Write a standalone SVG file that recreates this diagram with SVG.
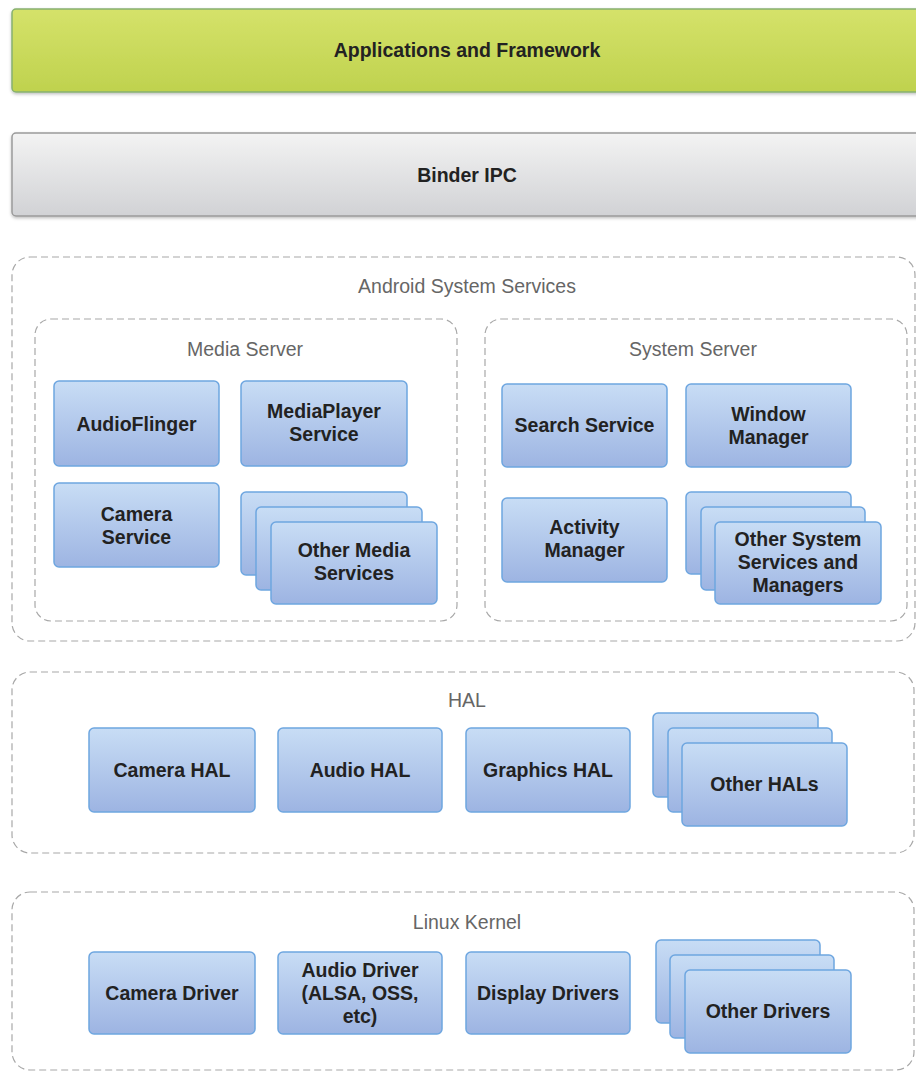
<svg xmlns="http://www.w3.org/2000/svg" width="916" height="1072" viewBox="0 0 916 1072">
<defs>
<linearGradient id="gBlue" x1="0" y1="0" x2="0" y2="1">
<stop offset="0" stop-color="#c8ddf5"/>
<stop offset="1" stop-color="#9db4e2"/>
</linearGradient>
<linearGradient id="gGreen" x1="0" y1="0" x2="0" y2="1">
<stop offset="0" stop-color="#d5e26a"/>
<stop offset="1" stop-color="#bfd24e"/>
</linearGradient>
<linearGradient id="gGrey" x1="0" y1="0" x2="0" y2="1">
<stop offset="0" stop-color="#f3f3f3"/>
<stop offset="1" stop-color="#d1d2d5"/>
</linearGradient>
<filter id="sh" x="-10%" y="-10%" width="120%" height="130%">
<feDropShadow dx="0" dy="1.5" stdDeviation="1.5" flood-color="#000" flood-opacity="0.25"/>
</filter>
</defs>
<style>
.box{fill:url(#gBlue);stroke:#6ea6e0;stroke-width:1.5}
.grp{fill:none;stroke:#a8a8a8;stroke-width:1.2;stroke-dasharray:7 4}
.lbl{font-family:"Liberation Sans",Arial,sans-serif;font-weight:bold;font-size:19.5px;fill:#222;text-anchor:middle}
.ttl{font-family:"Liberation Sans",Arial,sans-serif;font-size:19.5px;fill:#666;text-anchor:middle}
</style>
<rect width="916" height="1072" fill="#ffffff"/>

<g id="apps">
<rect x="12" y="9" width="912" height="83" rx="4" fill="url(#gGreen)" stroke="#86b070" stroke-width="1.5" filter="url(#sh)"/>
<text class="lbl" x="467" y="57">Applications and Framework</text>
</g>
<g id="binder">
<rect x="12" y="133" width="912" height="83" rx="4" fill="url(#gGrey)" stroke="#9a9a9a" stroke-width="1.5" filter="url(#sh)"/>
<text class="lbl" x="467" y="182">Binder IPC</text>
</g>

<g id="android-system-services">
<rect class="grp" x="12" y="257" width="903" height="384" rx="18"/>
<text class="ttl" x="467" y="293">Android System Services</text>
</g>
<g id="media-server">
<rect class="grp" x="35" y="319" width="422" height="302" rx="16"/>
<text class="ttl" x="245" y="356">Media Server</text>
</g>
<g id="audioflinger">
<rect class="box" x="54" y="381" width="165" height="85" rx="5"/>
<text class="lbl" x="136.5" y="431">AudioFlinger</text>
</g>
<g id="mediaplayer-service">
<rect class="box" x="241" y="381" width="166" height="85" rx="5"/>
<text class="lbl" x="324" y="418">MediaPlayer</text>
<text class="lbl" x="324" y="441">Service</text>
</g>
<g id="camera-service">
<rect class="box" x="54" y="483" width="165" height="84" rx="5"/>
<text class="lbl" x="136.5" y="521">Camera</text>
<text class="lbl" x="136.5" y="544">Service</text>
</g>
<g id="other-media-services">
<rect class="box" x="241" y="492" width="166" height="83" rx="5"/>
<rect class="box" x="256" y="507" width="166" height="83" rx="5"/>
<rect class="box" x="271" y="522" width="166" height="82" rx="5"/>
<text class="lbl" x="354" y="557">Other Media</text>
<text class="lbl" x="354" y="580">Services</text>
</g>

<g id="system-server">
<rect class="grp" x="485" y="319" width="422" height="302" rx="16"/>
<text class="ttl" x="693" y="356">System Server</text>
</g>
<g id="search-service">
<rect class="box" x="502" y="384" width="165" height="83" rx="5"/>
<text class="lbl" x="584.5" y="432">Search Service</text>
</g>
<g id="window-manager">
<rect class="box" x="686" y="384" width="165" height="83" rx="5"/>
<text class="lbl" x="768.5" y="421">Window</text>
<text class="lbl" x="768.5" y="444">Manager</text>
</g>
<g id="activity-manager">
<rect class="box" x="502" y="498" width="165" height="84" rx="5"/>
<text class="lbl" x="584.5" y="534">Activity</text>
<text class="lbl" x="584.5" y="557">Manager</text>
</g>
<g id="other-system-services">
<rect class="box" x="686" y="492" width="165" height="82" rx="5"/>
<rect class="box" x="701" y="507" width="164" height="83" rx="5"/>
<rect class="box" x="715" y="522" width="166" height="82" rx="5"/>
<text class="lbl" x="798" y="546">Other System</text>
<text class="lbl" x="798" y="569">Services and</text>
<text class="lbl" x="798" y="592">Managers</text>
</g>

<g id="hal">
<rect class="grp" x="12" y="672" width="902" height="181" rx="18"/>
<text class="ttl" x="467" y="707">HAL</text>
</g>
<g id="camera-hal">
<rect class="box" x="89" y="728" width="166" height="84" rx="5"/>
<text class="lbl" x="172" y="777">Camera HAL</text>
</g>
<g id="audio-hal">
<rect class="box" x="278" y="728" width="164" height="84" rx="5"/>
<text class="lbl" x="360" y="777">Audio HAL</text>
</g>
<g id="graphics-hal">
<rect class="box" x="466" y="728" width="164" height="84" rx="5"/>
<text class="lbl" x="548" y="777">Graphics HAL</text>
</g>
<g id="other-hals">
<rect class="box" x="653" y="713" width="165" height="84" rx="5"/>
<rect class="box" x="668" y="728" width="164" height="84" rx="5"/>
<rect class="box" x="682" y="743" width="165" height="83" rx="5"/>
<text class="lbl" x="764.5" y="791">Other HALs</text>
</g>

<g id="linux-kernel">
<rect class="grp" x="12" y="892" width="902" height="178" rx="18"/>
<text class="ttl" x="467" y="929">Linux Kernel</text>
</g>
<g id="camera-driver">
<rect class="box" x="89" y="952" width="166" height="82" rx="5"/>
<text class="lbl" x="172" y="1000">Camera Driver</text>
</g>
<g id="audio-driver">
<rect class="box" x="278" y="952" width="164" height="82" rx="5"/>
<text class="lbl" x="360" y="977">Audio Driver</text>
<text class="lbl" x="360" y="1000">(ALSA, OSS,</text>
<text class="lbl" x="360" y="1023">etc)</text>
</g>
<g id="display-drivers">
<rect class="box" x="466" y="952" width="164" height="82" rx="5"/>
<text class="lbl" x="548" y="1000">Display Drivers</text>
</g>
<g id="other-drivers">
<rect class="box" x="656" y="940" width="164" height="83" rx="5"/>
<rect class="box" x="670" y="955" width="164" height="83" rx="5"/>
<rect class="box" x="685" y="970" width="166" height="83" rx="5"/>
<text class="lbl" x="768" y="1018">Other Drivers</text>
</g>

<g id="connectors"></g>
</svg>
